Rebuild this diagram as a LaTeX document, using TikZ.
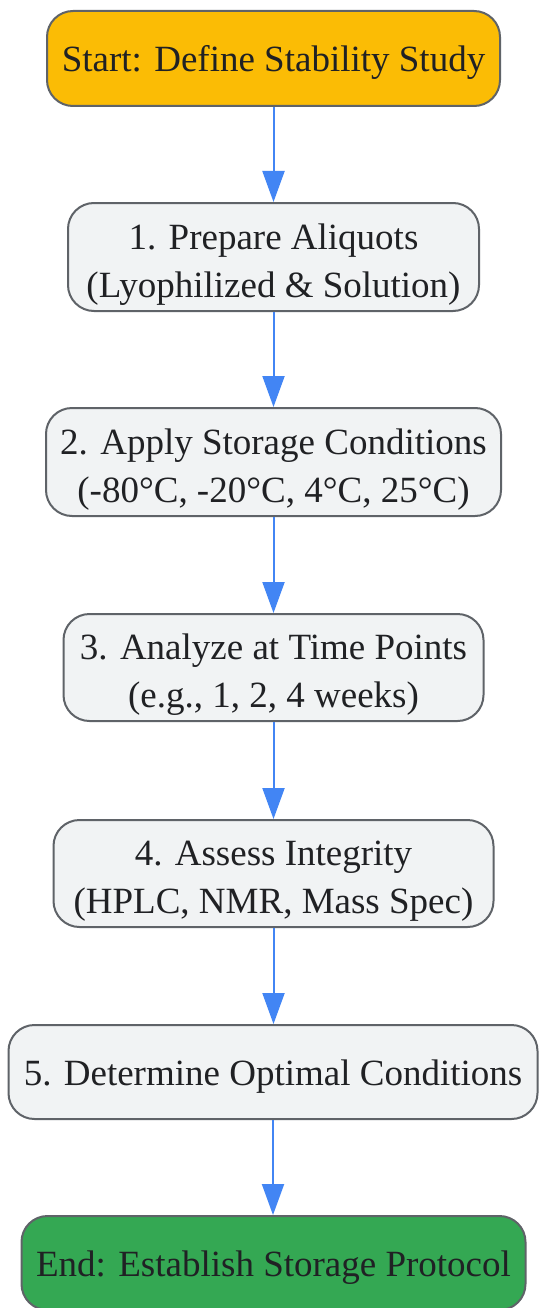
\documentclass[tikz,border=0pt]{standalone}
\usepackage{fontspec}
\setmainfont{Liberation Serif}
\usetikzlibrary{arrows.meta}
\definecolor{startfill}{HTML}{FBBC05}
\definecolor{endfill}{HTML}{34A853}
\definecolor{boxfill}{HTML}{F1F3F4}
\definecolor{boxline}{HTML}{5F6368}
\definecolor{arrowblue}{HTML}{4285F4}
\definecolor{txt}{HTML}{202124}
\newcommand{\strutone}{\rule{0pt}{34pt}}
\newcommand{\struttwo}{\rule{0pt}{40pt}}
\begin{document}
\begin{tikzpicture}[x=1pt,y=1pt,
  flowbox/.style={draw=boxline, line width=2pt, rounded corners=26pt, fill=boxfill, text=txt,
    inner sep=0pt, align=center, anchor=north, font=\fontsize{37}{48}\selectfont},
  flowarrow/.style={draw=arrowblue, line width=2pt, -{Triangle[width=22pt,length=31pt]}}
]
\useasboundingbox (0,0) rectangle (539,-1308);
\fill[white] (0,0) rectangle (539,-1308);
\node[flowbox, fill=startfill, minimum width=453pt, minimum height=95pt] (start) at (273.5,-10) {\strutone Start: Define Stability Study};
\node[flowbox, minimum width=411pt, minimum height=108pt] (s1) at (273.5,-202) {\struttwo 1. Prepare Aliquots\\(Lyophilized \& Solution)};
\node[flowbox, minimum width=455pt, minimum height=108pt] (s2) at (273.5,-407) {\struttwo 2. Apply Storage Conditions\\(-80°C, -20°C, 4°C, 25°C)};
\node[flowbox, minimum width=420pt, minimum height=107pt] (s3) at (273.5,-613) {\struttwo 3. Analyze at Time Points\\(e.g., 1, 2, 4 weeks)};
\node[flowbox, minimum width=440pt, minimum height=107pt] (s4) at (273.5,-819) {\struttwo 4. Assess Integrity\\(HPLC, NMR, Mass Spec)};
\node[flowbox, minimum width=529pt, minimum height=94pt] (s5) at (273,-1024) {\strutone 5. Determine Optimal Conditions};
\node[flowbox, fill=endfill, minimum width=504pt, minimum height=94pt] (end) at (273.5,-1215) {\strutone End: Establish Storage Protocol};
\draw[flowarrow] (start.south) -- (start.south |- s1.north);
\draw[flowarrow] (s1.south) -- (s1.south |- s2.north);
\draw[flowarrow] (s2.south) -- (s2.south |- s3.north);
\draw[flowarrow] (s3.south) -- (s3.south |- s4.north);
\draw[flowarrow] (s4.south) -- (s4.south |- s5.north);
\draw[flowarrow] (s5.south) -- (s5.south |- end.north);
\end{tikzpicture}
\end{document}
